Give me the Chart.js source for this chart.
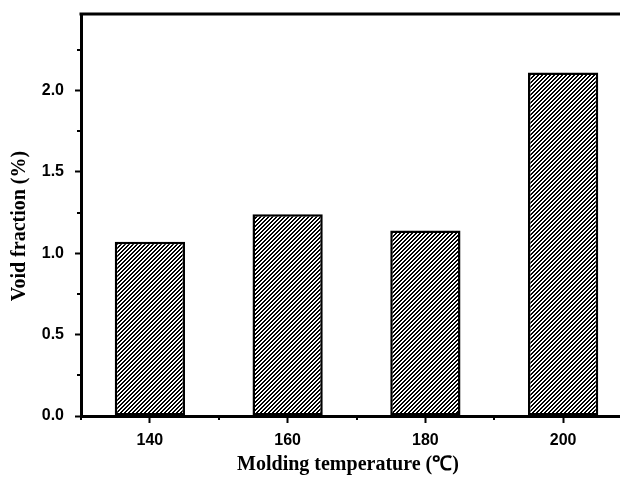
<!DOCTYPE html>
<html>
<head>
<meta charset="utf-8">
<script src="https://cdn.jsdelivr.net/npm/chart.js@4"></script>
<style>
  html, body { margin: 0; padding: 0; background: #fff; overflow: hidden; }
  #wrap { width: 620px; height: 478px; overflow: hidden; }
</style>
</head>
<body>
<div id="wrap"><canvas id="chart" width="650" height="478"></canvas></div>
<script>
// --- DATA ---
const temperatures = ['140', '160', '180', '200'];
const voidFraction = [1.07, 1.24, 1.14, 2.11];
const yMax = 2.47;
const yStep = 0.5;
const yMinorTicks = [0.25, 0.75, 1.25, 1.75, 2.25];

const xTitle = 'Molding temperature (\u2103)';
const yTitle = 'Void fraction (%)';

// --- HATCH PATTERN (crisp pixel stripes, "/" direction) ---
function makeHatch() {
  const c = document.createElement('canvas');
  c.width = 4;
  c.height = 4;
  const g = c.getContext('2d');
  g.fillStyle = '#fff';
  g.fillRect(0, 0, 4, 4);
  g.fillStyle = '#000';
  for (let px = 0; px < 4; px++) {
    for (let py = 0; py < 4; py++) {
      if ((px + py) % 4 < 2) g.fillRect(px, py, 1, 1);
    }
  }
  return g.createPattern(c, 'repeat');
}

// --- EXTRA DRAWING: frame, minor ticks, axis titles ---
const framePlugin = {
  id: 'frame',
  afterDraw(chart) {
    const ctx = chart.ctx;
    const a = chart.chartArea;
    const x = chart.scales.x;
    const y = chart.scales.y;
    ctx.save();
    ctx.strokeStyle = '#000';
    ctx.lineWidth = 3;
    ctx.beginPath();
    ctx.moveTo(a.left - 1.5, a.top);
    ctx.lineTo(a.right, a.top);
    ctx.lineTo(a.right, a.bottom);
    ctx.stroke();

    // minor ticks
    ctx.lineWidth = 2;
    ctx.beginPath();
    yMinorTicks.forEach(v => {
      const py = Math.round(y.getPixelForValue(v));
      ctx.moveTo(a.left, py);
      ctx.lineTo(a.left - 4, py);
    });
    for (let k = 0; k <= temperatures.length; k++) {
      const px = Math.round(x.getPixelForValue(k - 0.5));
      ctx.moveTo(px, a.bottom);
      ctx.lineTo(px, a.bottom + 4);
    }
    ctx.stroke();

    // axis titles
    ctx.fillStyle = '#000';
    ctx.font = 'bold 20px "Liberation Serif", "Times New Roman", serif';
    ctx.textAlign = 'center';
    ctx.textBaseline = 'middle';
    ctx.fillText(xTitle, 348, 465);
    ctx.translate(20, 226);
    ctx.rotate(-Math.PI / 2);
    ctx.fillText(yTitle, 0, 0);
    ctx.restore();
  }
};

window.onload = () => {
  const ctx = document.getElementById('chart').getContext('2d');
  new Chart(ctx, {
    type: 'bar',
    data: {
      labels: temperatures,
      datasets: [{
        data: voidFraction,
        backgroundColor: makeHatch(),
        borderColor: '#000',
        borderWidth: 2.5,
        borderSkipped: false,
        barPercentage: 0.51,
        categoryPercentage: 1
      }]
    },
    options: {
      responsive: false,
      animation: false,
      devicePixelRatio: 1,
      layout: { padding: { left: 0, right: 18, top: 14, bottom: 0 } },
      plugins: {
        legend: { display: false },
        tooltip: { enabled: false }
      },
      scales: {
        x: {
          afterFit: s => { s.height = 62; s.paddingLeft = 0; s.paddingRight = 0; },
          grid: {
            drawOnChartArea: false,
            drawTicks: true,
            offset: false,
            tickLength: 7,
            tickWidth: 2,
            tickColor: '#000'
          },
          border: { display: true, color: '#000', width: 3 },
          ticks: {
            color: '#000',
            padding: 8,
            font: { family: '"Liberation Sans", Arial, sans-serif', size: 16, weight: 'bold' }
          }
        },
        y: {
          min: 0,
          max: yMax,
          afterFit: s => { s.width = 81; s.paddingTop = 0; s.paddingBottom = 0; },
          grid: {
            drawOnChartArea: false,
            drawTicks: true,
            tickLength: 6,
            tickWidth: 2,
            tickColor: '#000'
          },
          border: { display: true, color: '#000', width: 3 },
          ticks: {
            stepSize: yStep,
            includeBounds: false,
            color: '#000',
            padding: 11,
            font: { family: '"Liberation Sans", Arial, sans-serif', size: 16, weight: 'bold' },
            callback: v => Number(v).toFixed(1)
          }
        }
      }
    },
    plugins: [framePlugin]
  });
};
</script>
</body>
</html>
